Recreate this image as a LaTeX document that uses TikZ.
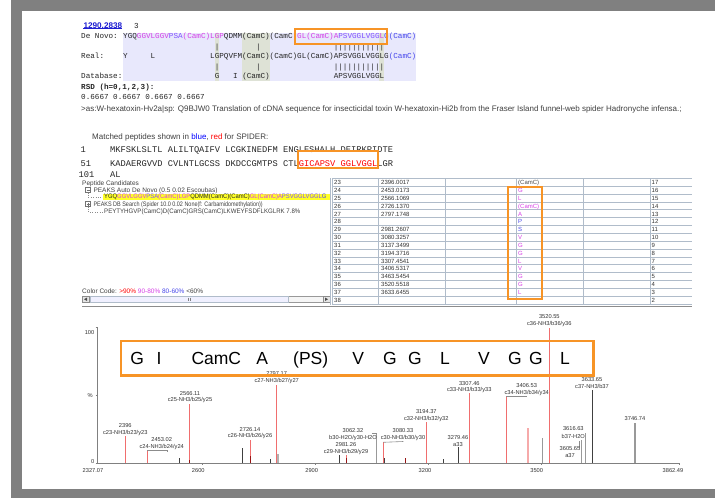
\documentclass[tikz,border=0pt]{standalone}
\usepackage{fontspec}
\setmainfont{Liberation Sans}
\setmonofont{Liberation Mono}
\definecolor{pgray}{RGB}{128,128,128}
\definecolor{org}{RGB}{247,148,38}
\definecolor{mag}{RGB}{214,64,230}
\definecolor{vio}{RGB}{128,80,255}
\definecolor{blu}{RGB}{70,70,235}
\definecolor{lav}{RGB}{232,232,252}
\definecolor{gcol}{RGB}{222,226,214}
\definecolor{pkred}{RGB}{240,110,110}
\definecolor{pkpink}{RGB}{246,170,170}
\definecolor{dkred}{RGB}{150,20,20}
\definecolor{tline}{RGB}{176,188,202}
\definecolor{linkb}{RGB}{30,30,210}
\definecolor{ylw}{RGB}{255,255,40}
\tikzset{
 mono/.style={font=\ttfamily\fontsize{7.63}{8}\selectfont, anchor=base west, inner sep=0pt, text=black!85},
 seqf/.style={font=\ttfamily\fontsize{8.73}{9}\selectfont, anchor=base west, inner sep=0pt, text=black!85},
 sans/.style={font=\fontsize{8}{9}\selectfont, anchor=base west, inner sep=0pt, text=black!75},
 small/.style={font=\fontsize{6.5}{7}\selectfont, anchor=base west, inner sep=0pt, text=black!75},
 tab/.style={font=\fontsize{6}{7}\selectfont, anchor=base west, inner sep=0pt, text=black!80},
 plab/.style={font=\fontsize{5.7}{6}\selectfont, inner sep=0pt, text=black!80},
 orbox/.style={draw=org, line width=2pt},
 redpk/.style={draw=pkred, line width=1.1pt},
 pinkpk/.style={draw=pkpink, line width=1.3pt},
 blkpk/.style={draw=black!75, line width=1pt},
 grypk/.style={draw=black!40, line width=1.2pt},
 dkpk/.style={draw=dkred, line width=1.1pt},
 tl/.style={draw=tline, line width=0.6pt},
}
\begin{document}
\begin{tikzpicture}[x=1pt,y=-1pt]
\useasboundingbox (0,0) rectangle (715,498);
% page background
\fill[pgray] (11,0) rectangle (715,498);
\fill[white] (22,11) rectangle (715,489);

% ---------- alignment block ----------
\fill[lav] (123,32.7) rectangle (416.1,80.7);
\fill[gcol] (214.6,32.7) rectangle (219.2,80.7);
\fill[gcol] (242.1,32.7) rectangle (269.6,80.7);
\fill[gcol] (379.4,32.7) rectangle (384,80.7);

\node[font=\bfseries\fontsize{8.2}{9}\selectfont, anchor=base west, inner sep=0pt, text=linkb] (mass) at (83.3,28.3) {1290.2838};
\draw[linkb, line width=0.6pt] (mass.south west) -- (mass.south east);
\node[mono] (chg) at (134,28.3) {3};

\node[mono] (dnl) at (81,38.9) {De Novo:};
\node[mono] (dn) at (123,38.9) {YGQ\textcolor{mag}{GGVLGGV}\textcolor{vio}{PSA}\textcolor{mag}{(CamC)LGP}QDMM(CamC)(CamC\textcolor{mag}{)GL(CamC)A}\textcolor{vio}{PSVGGLVGG}\textcolor{mag}{L}\textcolor{blu}{G(CamC)}};
\node[mono] (b1a) at (214.6,49) {|};
\node[mono] (b1b) at (255.8,49) {|};
\node[mono] (b1c) at (333.6,49) {|||||||||||};
\node[mono] (rl) at (81,58.9) {Real:};
\node[mono] (r0) at (123,58.9) {Y};
\node[mono] (r6) at (150.5,58.9) {L};
\node[mono] (r19) at (210,58.9) {LGPQVFM(CamC)(CamC)GL(CamC)APSVGGLVGGLG\textcolor{blu}{(CamC)}};
\node[mono] (b2a) at (214.6,69) {|};
\node[mono] (b2b) at (255.8,69) {|};
\node[mono] (b2c) at (333.6,69) {|||||||||||};
\node[mono] (dbl) at (81,78.9) {Database:};
\node[mono] (d20) at (214.6,78.9) {G};
\node[mono] (d24) at (232.9,78.9) {I};
\node[mono] (d26) at (242.1,78.9) {(CamC)};
\node[mono] (d46) at (333.6,78.9) {APSVGGLVGGL};
\draw[orbox] (294.5,29) rectangle (386.5,43.5);

\node[mono, font=\ttfamily\bfseries\fontsize{7.63}{8}\selectfont] (rsd) at (81,89.6) {RSD (h=0,1,2,3):};
\node[mono] (rsdv) at (81,99) {0.6667 0.6667 0.6667 0.6667};

\node[sans] (desc) at (81,111.8) {>as:W-hexatoxin-Hv2a|sp: Q9BJW0 Translation of cDNA sequence for insecticidal toxin W-hexatoxin-Hi2b from the Fraser Island funnel-web spider Hadronyche infensa.;};
\node[sans] (match) at (92,139.4) {Matched peptides shown in \textcolor{blue}{blue}, \textcolor{red}{red} for SPIDER:};

\node[seqf] (n1) at (80.5,152.8) {1};
\node[seqf] (s1) at (110,152.8) {MKFSKLSLTL ALILTQAIFV LCGKINEDFM ENGLESHALH DEIRKPIDTE};
\node[seqf] (n51) at (80.5,166) {51};
\node[seqf] (s51) at (110,166) {KADAERGVVD CVLNTLGCSS DKDCCGMTPS CTL\textcolor{red}{GICAPSV GGLVGGL}LGR};
\node[seqf] (n101) at (78.5,177.5) {101};
\node[seqf] (s101) at (110,177.5) {AL};
\draw[orbox] (298,150.5) rectangle (377.5,168);

% ---------- peptide candidates panel ----------
\node[small] (pc) at (82,185.3) {Peptide Candidates};
\draw[black!55, line width=0.5pt] (85.5,187.5) rectangle (90.5,192.5);
\draw[black!55, line width=0.5pt] (86.5,190) -- (89.5,190);
\node[small] (t1) at (93.3,192.3) {PEAKS Auto De Novo (0.5 0.02 Escoubas)};
\draw[black!45, dotted] (88,192.5) -- (88,197) -- (103,197);
\fill[ylw] (103.3,194.3) rectangle (330,199.8);
\node[small, text=black!85] (t1s) at (104,198.8) {\scalebox{0.9}[1]{YGQ\textcolor{mag}{GGVLGGV}\textcolor{vio}{PSA}\textcolor{mag}{(CamC)LGP}QDMM(CamC)(CamC)\textcolor{mag}{GL(CamC)A}\textcolor{vio}{PSVGGLVGGL}\textcolor{blu}{G}}};
\draw[black!55, line width=0.5pt] (85.5,201.5) rectangle (90.5,206.5);
\draw[black!55, line width=0.5pt] (86.5,204) -- (89.5,204) (88,202.5) -- (88,205.5);
\node[small] (t2) at (93.3,206.3) {\scalebox{0.84}[1]{PEAKS DB Search (Spider 10.0 0.02 None(f: Carbamidomethylation))}};
\draw[black!45, dotted] (88,206.5) -- (88,211.7) -- (103,211.7);
\node[small] (t2s) at (104,213.8) {\scalebox{0.94}[1]{PEYTYHGVP(CamC)D(CamC)GRS(CamC)LKWEYFSDFLKGLRK 7.8\%}};

\node[small] (cc) at (82,293.3) {Color Code: \textcolor{red}{>90\%} \textcolor{mag}{90-80\%} \textcolor{blu}{80-60\%} <60\%};
\draw[fill=black!4, draw=black!40, line width=0.5pt] (82,296) rectangle (330,302.5);
\draw[fill=black!10, draw=black!45, line width=0.5pt] (82,296) rectangle (89,302.5);
\draw[fill=black!10, draw=black!45, line width=0.5pt] (323,296) rectangle (330,302.5);
\fill[black!70] (87,297.5) -- (84,299.25) -- (87,301) -- cycle;
\fill[black!70] (325,297.5) -- (328,299.25) -- (325,301) -- cycle;
\draw[fill=blue!6, draw=tline, line width=0.6pt] (90,296.5) rectangle (288,302);
\draw[black!50, line width=0.4pt] (188,297.5) -- (188,301) (190,297.5) -- (190,301);
\draw[black!45, line width=0.8pt] (82,306.7) -- (692,306.7);

% ---------- table ----------
\begin{scope}
\clip (329,176) rectangle (693,304.5);
\foreach \i in {0,...,16} {\draw[tl] (332.3,178.3+\i*7.85) -- (692,178.3+\i*7.85);}
\foreach \xx in {330.7,332.3,378.7,445.7,516.6,583.3,650} {\draw[tl] (\xx,178.3) -- (\xx,306);}
\foreach \i/\n/\m/\r/\c/\k in {0/23/2396.0017/(CamC)/black!70/17, 1/24/2453.0173/G/mag/16, 2/25/2566.1069/L/mag/15, 3/26/2726.1370/(CamC)/mag/14, 4/27/2797.1748/A/mag/13, 5/28//P/blu/12, 6/29/2981.2607/S/blu/11, 7/30/3080.3257/V/mag/10, 8/31/3137.3499/G/mag/9, 9/32/3194.3716/G/mag/8, 10/33/3307.4541/L/mag/7, 11/34/3406.5317/V/mag/6, 12/35/3463.5454/G/mag/5, 13/36/3520.5518/G/mag/4, 14/37/3633.6455/L/mag/3, 15/38///black/2} {
  \node[tab] (rn\i) at (334,184.6+\i*7.85) {\n};
  \node[tab] (rm\i) at (381,184.6+\i*7.85) {\m};
  \node[tab, text=\c] (rr\i) at (518,184.6+\i*7.85) {\r};
  \node[tab] (rk\i) at (651.5,184.6+\i*7.85) {\k};
}
\end{scope}
\draw[orbox] (508.3,187.3) rectangle (541.7,299.3);

% ---------- spectrum ----------
\draw[black!50, line width=0.8pt] (97.7,327.3) -- (97.7,463) -- (679,463);
\draw[black!50, line width=0.6pt] (95.5,327.3) -- (97.7,327.3) (95.5,395) -- (97.7,395) (95.5,463) -- (97.7,463);
\foreach \xx in {202.7,315.7,428.7,541.7,679} {\draw[black!50, line width=0.6pt] (\xx,463) -- (\xx,465);}
\node[plab, anchor=east] (y100) at (94.5,332.3) {100};
\node[plab, anchor=east] (ypc) at (93,396) {\%};
\node[plab, anchor=east] (y0) at (94.5,462) {0};
\node[plab] (x0) at (93,471) {2327.07};
\node[plab] (x1) at (198.3,471) {2600};
\node[plab] (x2) at (311.7,471) {2900};
\node[plab] (x3) at (425,471) {3200};
\node[plab] (x4) at (536.7,471) {3500};
\node[plab] (x5) at (673,471) {3862.49};

% peaks
\foreach \xx/\tt in {179.3/457.7, 242.7/448.3, 270.3/459, 339.3/455, 443.3/459.3, 458.3/447.3, 592.3/390, 384.5/458} {\draw[blkpk] (\xx,463) -- (\xx,\tt);}
\foreach \xx/\tt in {376.7/433.3, 542.7/438.3, 581.7/440, 585.7/433.3, 635/422.7} {\draw[grypk] (\xx,463) -- (\xx,\tt);}
\draw[draw=black!30, line width=2pt] (278.3,463) -- (278.3,454);
\draw[pinkpk] (528,463) -- (528,427.7);
\foreach \xx/\tt in {125.3/435.7, 147.3/451, 189.3/404, 250.3/440, 276.7/385, 346.7/455, 383.3/442.3, 426.3/422, 469.3/393.3, 506.3/396.7, 549.7/327.7} {\draw[redpk] (\xx,463) -- (\xx,\tt);}
\foreach \xx/\tt in {250.3/455.5, 346.7/457.5, 405.3/457.7, 189.3/460} {\draw[dkpk] (\xx,463) -- (\xx,\tt);}
% leaders
\draw[black!45, line width=0.6pt] (147.3,450.3) -- (167.3,450.3) -- (167.3,452);
\draw[black!45, line width=0.6pt] (372,433.3) -- (376.7,433.3);
\draw[black!45, line width=0.6pt] (383.3,442.3) -- (403.3,441.5);
\draw[black!45, line width=0.6pt] (506.3,396.2) -- (526.7,396.2);
\draw[black!45, line width=0.6pt] (579.5,441) -- (579.5,448);

% peak labels
\foreach \nm/\xx/\ya/\yb/\ta/\tb in {
 p1/125.3/425.7/432.6/2396/{c23-NH3/b23/y23},
 p2/161.7/440/446.7/2453.02/{c24-NH3/b24/y24},
 p3/190/393.3/400.2/2566.11/{c25-NH3/b25/y25},
 p4/250/429.3/436.5/2726.14/{c26-NH3/b26/y26},
 p5/276.7/374/381/2797.17/{c27-NH3/b27/y27},
 p6/346/445/451.9/2981.26/{c29-NH3/b29/y29},
 p7/353/430.7/437.7/3062.32/{b30-H2O/y30-H2O},
 p8/403/431/437.9/3080.33/{c30-NH3/b30/y30},
 p9/426.3/411.7/418.7/3194.37/{c32-NH3/b32/y32},
 p10/458/437.7/445/3279.46/{a33},
 p11/469.3/383.3/390.3/3307.46/{c33-NH3/b33/y33},
 p12/526.7/386/393/3406.53/{c34-NH3/b34/y34},
 p13/549.3/316.7/323.8/3520.55/{c36-NH3/b36/y36},
 p14/570/448.3/455.3/3605.65/{a37},
 p15/573.3/429/436/3616.63/{b37-H2O},
 p16/592/379.3/386.3/3633.65/{c37-NH3/b37}} {
  \node[plab] (\nm a) at (\xx,\ya) {\ta};
  \node[plab] (\nm b) at (\xx,\yb) {\tb};
}
\node[plab] (p17a) at (635,418.7) {3746.74};

% big sequence box
\draw[draw=org, line width=2.5pt] (121,341) rectangle (593.3,375.7);
\foreach \nm/\xx/\tt in {g1/137.3/G, g2/159/I, g3/216.3/CamC, g4/262.3/A, g5/310.7/(PS), g6/358.3/V, g7/390/G, g8/415/G, g9/445/L, g10/484/V, g11/515/G, g12/536/G, g13/565/L} {
  \node[font=\fontsize{17.5}{18}\selectfont, inner sep=0pt, anchor=base] (\nm) at (\xx,364.5) {\tt};
}
\end{tikzpicture}
\end{document}
